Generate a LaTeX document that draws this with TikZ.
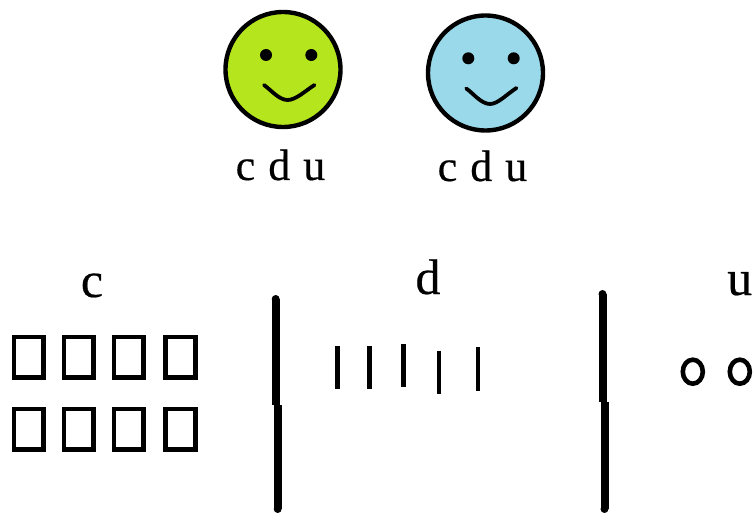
\documentclass[tikz,border=0pt]{standalone}
\usepackage{fontspec}
\setmainfont{Liberation Serif}[FakeBold=0.4]
\definecolor{facegreen}{HTML}{B5E61D}
\definecolor{faceblue}{HTML}{99D9EA}
\newcommand{\capfont}{\fontsize{44}{44}\selectfont\setlength{\spaceskip}{13pt}}
\tikzset{
  x=1pt,y=-1pt,
  face/.style={draw=black,line width=4.4pt},
  eye/.style={fill=black,draw=none},
  smile/.style={draw=black,line width=3.8pt,line cap=round,line join=round},
  label top/.style={anchor=base,inner sep=0pt,font=\capfont},
  label big/.style={anchor=base,inner sep=0pt,font=\fontsize{50}{50}\selectfont},
  box/.style={draw=black,line width=4.6pt,miter limit=10},
  tick/.style={draw=black,line width=4.6pt},
  bar/.style={draw=black,line width=8pt},
  ring/.style={draw=black,line width=4.6pt},
}
\begin{document}
\begin{tikzpicture}
\useasboundingbox (0,0) rectangle (755,513);
% faces
\fill[facegreen] (283,69.5) circle[radius=57.5];
\draw[face] (283,69.5) circle[radius=57.5];
\fill[eye] (266,55) circle[radius=6];
\fill[eye] (311.3,55) circle[radius=6];
\draw[smile] (264,85) .. controls (271,90) and (279,100) .. (287.5,100) .. controls (296,100) and (305,91) .. (314.5,85);
\fill[faceblue] (485.5,73) circle[radius=57.5];
\draw[face] (485.5,73) circle[radius=57.5];
\fill[eye] (468.3,58.3) circle[radius=6];
\fill[eye] (513.7,58.3) circle[radius=6];
\draw[smile] (466.2,88.5) .. controls (473,93) and (481,104) .. (490,104) .. controls (498,104) and (507,94) .. (516.5,88);
% captions
\node[label top] (capA) at (280.5,180) {c d u};
\node[label top] (capB) at (482.5,181) {c d u};
% column heads
\node[label big] (headC) at (92,297) {c};
\node[label big] (headD) at (428,294) {d};
\node[label big,anchor=base west] (headU) at (727,295) {u};
% boxes
\draw[box] (13.8,336.8) rectangle (43.2,377.2);
\draw[box] (63.8,336.8) rectangle (93.2,377.2);
\draw[box] (113.8,336.8) rectangle (143.2,377.2);
\draw[box] (165.4,336.8) rectangle (195.2,377.2);
\draw[box] (13.8,408.8) rectangle (43.2,449.2);
\draw[box] (63.8,408.8) rectangle (93.2,449.2);
\draw[box] (113.8,408.8) rectangle (143.2,449.2);
\draw[box] (165.4,408.8) rectangle (195.2,449.2);
% bars
\draw[bar] (275.7,299) -- (275.7,405);
\fill (275.7,299) circle[radius=4];
\draw[bar] (277.7,405) -- (277.7,509);
\fill (277.7,509) circle[radius=4];
\draw[bar] (602.5,294) -- (602.5,402);
\fill (602.5,294) circle[radius=4];
\draw[bar] (604.5,402) -- (604.5,509);
\fill (604.5,509) circle[radius=4];
% ticks
\draw[tick] (337.3,346) -- (337.3,389.3);
\draw[tick] (369.7,346) -- (369.7,389.3);
\draw[tick] (403.7,344.3) -- (403.7,387.3);
\draw[tick] (439,350.7) -- (439,394);
\draw[tick] (478,347.3) -- (478,390.7);
% rings
\draw[ring] (692.8,371.7) ellipse[x radius=10,y radius=12];
\draw[ring] (739.8,371.7) ellipse[x radius=10,y radius=12];
\end{tikzpicture}
\end{document}
